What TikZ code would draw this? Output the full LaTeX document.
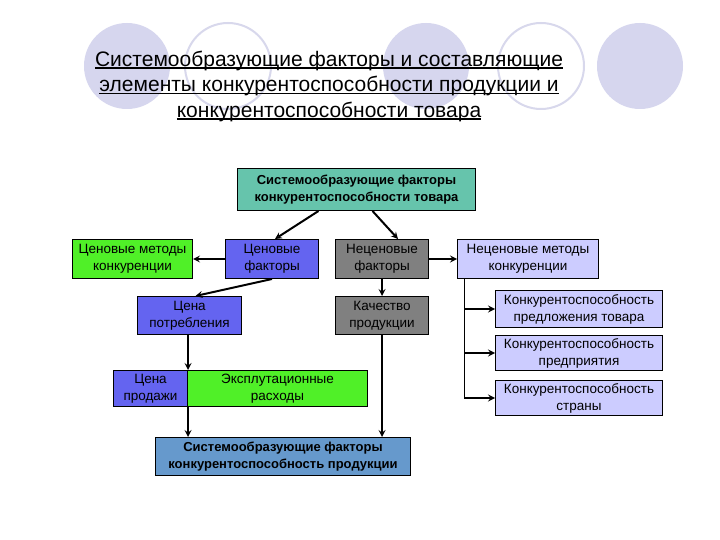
\documentclass[tikz,border=0pt]{standalone}
\usepackage{fontspec}
\setmainfont{Liberation Sans}
\usetikzlibrary{arrows, positioning}

\definecolor{ringfill}{RGB}{214,214,238}
\definecolor{ringline}{RGB}{216,216,236}
\definecolor{tealbox}{RGB}{102,196,172}
\definecolor{greenbox}{RGB}{80,240,40}
\definecolor{bluebox}{RGB}{100,100,240}
\definecolor{greybox}{RGB}{128,128,128}
\definecolor{lilacbox}{RGB}{204,204,255}
\definecolor{steelbox}{RGB}{102,153,204}

% underline drawn just under the baseline
\newcommand\titleline[1]{\setbox0\hbox{#1}\rlap{\rule[-2.6pt]{\wd0}{1.3pt}}\box0}

\begin{document}
\begin{tikzpicture}[x=1pt, y=-1pt,
  block/.style={rectangle, draw=black, line width=1pt, align=center, anchor=north west, inner sep=0pt, font=\fontsize{13.5}{17}\selectfont},
  bold/.style={font=\bfseries\fontsize{13}{17}\selectfont},
  arrow/.style={draw=black, ->, >=stealth, line width=2pt}]

  \useasboundingbox[fill=white] (0,0) rectangle (720,540);

  % background rings
  \fill[ringfill] (127,66) circle [radius=43pt];
  \draw[ringline, line width=2pt, fill=white] (228,66) circle [radius=43pt];
  \fill[ringfill] (426,66) circle [radius=43pt];
  \draw[ringline, line width=2pt, fill=white] (541,66) circle [radius=43pt];
  \fill[ringfill] (640,66) circle [radius=43pt];

  \node[align=center, font=\fontsize{21}{25.5}\selectfont] (title) at (329,86)
    {\titleline{Системообразующие факторы и составляющие}\\
     \titleline{элементы конкурентоспособности продукции и}\\
     \titleline{конкурентоспособности товара}};

  \node[block, bold, fill=tealbox, minimum width=238, minimum height=42] (sysgoods) at (237,168) {Системообразующие факторы\\конкурентоспособности товара};

  \node[block, fill=greenbox, minimum width=120, minimum height=39] (pricemeth) at (72,239) {Ценовые методы\\конкуренции};
  \node[block, fill=bluebox, minimum width=93, minimum height=39] (pricef) at (225,239) {Ценовые\\факторы};
  \node[block, fill=greybox, minimum width=93, minimum height=39] (nonpricef) at (335,239) {Неценовые\\факторы};
  \node[block, fill=lilacbox, minimum width=141, minimum height=39] (nonpricemeth) at (457,239) {Неценовые методы\\конкуренции};

  \node[block, fill=lilacbox, minimum width=167, minimum height=37] (offer) at (495,290) {Конкурентоспособность\\предложения товара};
  \node[block, fill=lilacbox, minimum width=167, minimum height=35] (firm) at (495,335) {Конкурентоспособность\\предприятия};
  \node[block, fill=lilacbox, minimum width=167, minimum height=35] (country) at (495,380) {Конкурентоспособность\\страны};

  \node[block, fill=bluebox, minimum width=104, minimum height=38] (consumprice) at (137,296) {Цена\\потребления};
  \node[block, fill=greybox, minimum width=93, minimum height=38] (quality) at (335,296) {Качество\\продукции};

  \node[block, fill=bluebox, minimum width=74, minimum height=36] (sale) at (113,370) {Цена\\продажи};
  \node[block, fill=greenbox, minimum width=180, minimum height=36] (opcost) at (187,370) {Эксплутационные\\расходы};

  \node[block, bold, fill=steelbox, minimum width=255, minimum height=38] (sysprod) at (155,437) {Системообразующие факторы\\конкурентоспособность продукции};

  % connectors
  \draw[arrow] ([xshift=-38]sysgoods.south) -- ([xshift=3]pricef.north);
  \draw[arrow] ([xshift=16]sysgoods.south) -- ([xshift=16]nonpricef.north);
  \draw[arrow] (pricef.west) -- (pricemeth.east);
  \draw[arrow] (nonpricef.east) -- (nonpricemeth.west);
  \draw[arrow] (pricef.south) -- ([xshift=6]consumprice.north);
  \draw[arrow] (nonpricef.south) -- (quality.north);
  \draw[arrow] (consumprice.south -| sale.east) -- (sale.north east);
  \draw[arrow] (sale.south east) -- (sale.south east |- sysprod.north);
  \draw[arrow] (quality.south) -- (quality.south |- sysprod.north);

  \coordinate (branch) at ([xshift=7]nonpricemeth.south west);
  \draw[line width=1pt] (branch) -- (branch |- country.west);
  \draw[arrow] (branch |- offer.west) -- (offer.west);
  \draw[arrow] (branch |- firm.west) -- (firm.west);
  \draw[arrow] (branch |- country.west) -- (country.west);
\end{tikzpicture}
\end{document}
